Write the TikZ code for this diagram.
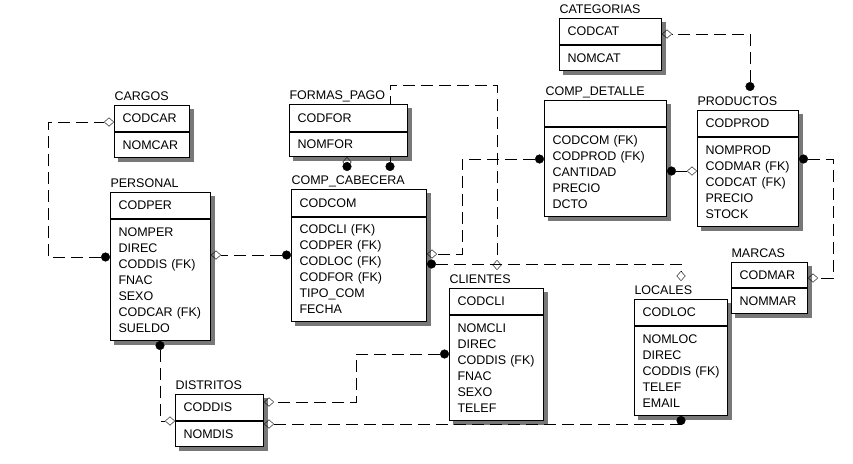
\documentclass[tikz,border=0pt]{standalone}
\usepackage{fontspec}
\setmainfont{Liberation Sans}
\usepackage{xcolor}
\usepackage{tikz}
\usetikzlibrary{positioning, arrows.meta, calc, backgrounds}
\definecolor{ink}{RGB}{0,0,0}
\definecolor{shade}{RGB}{120,120,120}
\tikzset{
  tabkey/.style   ={rectangle, draw=ink, fill=white, anchor=north west, inner xsep=8pt,
                    inner ysep=0pt, align=left, font=\fontsize{12.5}{16}\selectfont},
  tabattr/.style  ={tabkey},
  tabname/.style  ={anchor=base west, inner sep=0pt, font=\fontsize{12.5}{16}\selectfont},
  tabshadow/.style={fill=shade},
  rel/.style      ={draw=ink, dash pattern=on 12pt off 6pt,
                    {Circle[length=9pt]}-{Diamond[open, length=10pt, width=9pt]}},
}

\begin{document}
\begin{tikzpicture}[x=1pt, y=-1pt, line width=1pt]
\useasboundingbox (0,0) rectangle (853,463);

% CARGOS
\node[tabname] (carT) at (114,100) {CARGOS};
\node[tabkey, text width=59pt, minimum height=26pt] (carK) at (114,105) {CODCAR};
\node[tabattr, text width=59pt, minimum height=25pt] (carA) at (carK.south west) {NOMCAR};

% PERSONAL
\node[tabname] (perT) at (110,187) {PERSONAL};
\node[tabkey, text width=84pt, minimum height=26pt] (perK) at (110,192) {CODPER};
\node[tabattr, text width=84pt, minimum height=121pt] (perA) at (perK.south west)
  {NOMPER\\DIREC\\CODDIS~(FK)\\FNAC\\SEXO\\CODCAR~(FK)\\SUELDO};

% FORMAS_PAGO
\node[tabname] (forT) at (289,99) {FORMAS\_PAGO};
\node[tabkey, text width=102pt, minimum height=27pt] (forK) at (289,104) {CODFOR};
\node[tabattr, text width=102pt, minimum height=24pt] (forA) at (forK.south west) {NOMFOR};

% COMP_CABECERA
\node[tabname] (cabT) at (291,184) {COMP\_CABECERA};
\node[tabkey, text width=119pt, minimum height=27pt] (cabK) at (291,189) {CODCOM};
\node[tabattr, text width=119pt, minimum height=104pt] (cabA) at (cabK.south west)
  {CODCLI~(FK)\\CODPER~(FK)\\CODLOC~(FK)\\CODFOR~(FK)\\TIPO\_COM\\FECHA};

% CLIENTES
\node[tabname] (cliT) at (449,283) {CLIENTES};
\node[tabkey, text width=78pt, minimum height=26pt] (cliK) at (449,288) {CODCLI};
\node[tabattr, text width=78pt, minimum height=105pt] (cliA) at (cliK.south west)
  {NOMCLI\\DIREC\\CODDIS~(FK)\\FNAC\\SEXO\\TELEF};

% LOCALES
\node[tabname] (locT) at (634,294) {LOCALES};
\node[tabkey, text width=77pt, minimum height=26pt] (locK) at (634,299) {CODLOC};
\node[tabattr, text width=77pt, minimum height=89pt] (locA) at (locK.south west)
  {NOMLOC\\DIREC\\CODDIS~(FK)\\TELEF\\EMAIL};

% MARCAS
\node[tabname] (marT) at (731,257) {MARCAS};
\node[tabkey, text width=60pt, minimum height=25pt] (marK) at (731,262) {CODMAR};
\node[tabattr, text width=60pt, minimum height=25pt] (marA) at (marK.south west) {NOMMAR};

% CATEGORIAS
\node[tabname] (catT) at (559,13) {CATEGORIAS};
\node[tabkey, text width=86pt, minimum height=26pt] (catK) at (559,18) {CODCAT};
\node[tabattr, text width=86pt, minimum height=25pt] (catA) at (catK.south west) {NOMCAT};

% COMP_DETALLE
\node[tabname] (detT) at (545,95) {COMP\_DETALLE};
\node[tabkey, text width=106pt, minimum height=26pt] (detK) at (544,100) {};
\node[tabattr, text width=106pt, minimum height=89pt] (detA) at (detK.south west)
  {CODCOM~(FK)\\CODPROD~(FK)\\CANTIDAD\\PRECIO\\DCTO};

% PRODUCTOS
\node[tabname] (proT) at (697,105) {PRODUCTOS};
\node[tabkey, text width=85pt, minimum height=26pt] (proK) at (697,110) {CODPROD};
\node[tabattr, text width=85pt, minimum height=89pt] (proA) at (proK.south west)
  {NOMPROD\\CODMAR~(FK)\\CODCAT~(FK)\\PRECIO\\STOCK};

% DISTRITOS
\node[tabname] (disT) at (175,389) {DISTRITOS};
\node[tabkey, text width=72pt, minimum height=26pt] (disK) at (175,394) {CODDIS};
\node[tabattr, text width=72pt, minimum height=25pt] (disA) at (disK.south west) {NOMDIS};

\begin{pgfonlayer}{background}
  \foreach \tab in {car,per,for,cab,cli,loc,mar,cat,det,pro,dis}
    \fill[tabshadow] ($(\tab K.north west)+(4,4)$) rectangle ($(\tab A.south east)+(4,4)$);

  % relationships: dot on the child, diamond on the parent
  \draw[rel] (perA.west |- 0,257) -- (48,257) |- (carK.west |- 0,122);
  \draw[rel] (cabA.west |- 0,255) -- (perA.east |- 0,255);
  \draw[rel] ($(cabK.north -| 347,0)+(0,-18)$) -- (forA.south -| 347,0);
  \draw[rel] ($(cabK.north -| 390,0)+(0,-18)$) -- (390,85) -| ($(cliK.north -| 497,0)+(0,-18)$);
  \draw[rel] (cabA.east |- 0,264) -| ($(locK.north -| 681,0)+(0,-18)$);
  \draw[rel] (detA.west |- 0,159) -| (462,254) -- (cabA.east |- 0,254);
  \draw[rel] (detA.east |- 0,171) -- (proA.west |- 0,171);
  \draw[rel] ($(proK.north -| 750,0)+(0,-19)$) |- (catK.east |- 0,34);
  \draw[rel] (proA.east |- 0,159) -| (833,278) -- (marK.east |- 0,278);
  \draw[rel] (perA.south -| 160,0) |- (disA.north west);
  \draw[rel] (cliA.west |- 0,354) -| (356,402) -- (disK.east |- 0,402);
  \draw[rel] (locA.south -| 681,0) |- (disA.east |- 0,424);
\end{pgfonlayer}
\end{tikzpicture}
\end{document}
